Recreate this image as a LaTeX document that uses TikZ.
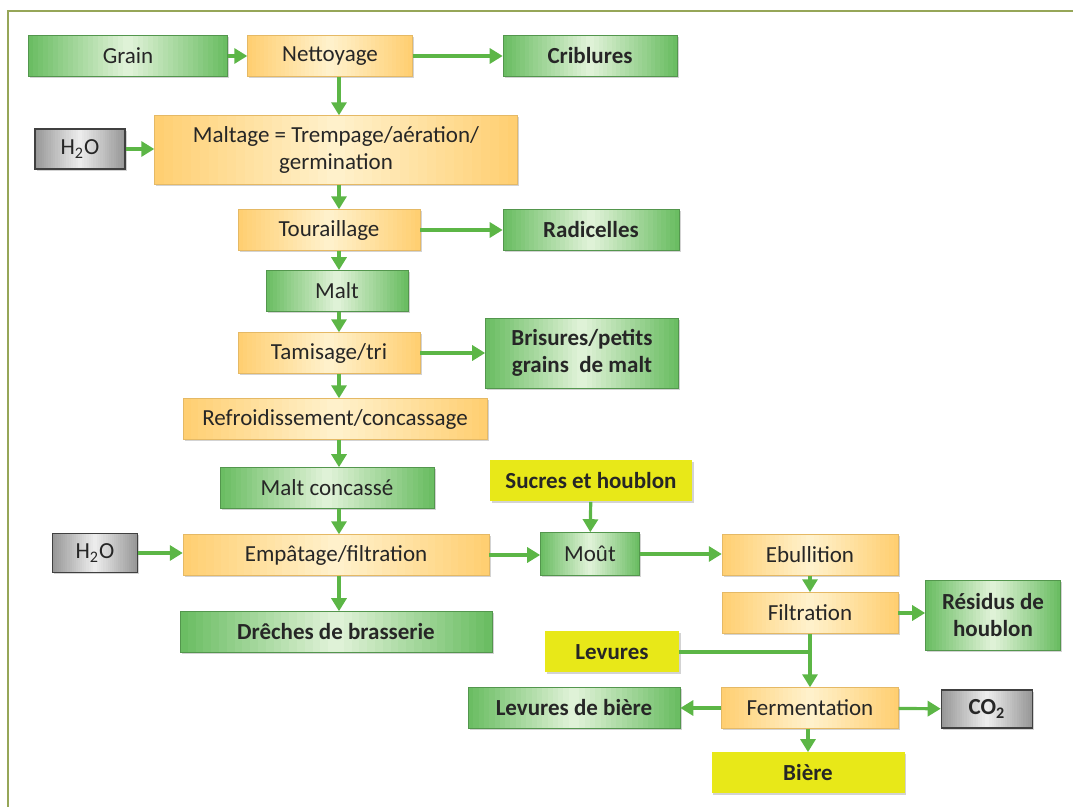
\documentclass[tikz,border=0pt]{standalone}
\usepackage{fontspec}
\setmainfont{Carlito}
\usetikzlibrary{arrows.meta,shadows,calc}

\definecolor{prodgreen}{RGB}{104,188,96}
\definecolor{prodlight}{RGB}{226,243,218}
\definecolor{steporange}{RGB}{255,206,112}
\definecolor{steplight}{RGB}{255,242,205}
\definecolor{inyellow}{RGB}{232,232,24}
\definecolor{gasgray}{RGB}{150,150,150}
\definecolor{gaslight}{RGB}{238,238,238}
\definecolor{flowgreen}{RGB}{92,182,70}
\definecolor{framegreen}{RGB}{150,166,88}
\definecolor{txt}{RGB}{38,38,38}

\begin{document}
\begin{tikzpicture}[x=0.5pt,y=0.5pt,
  font=\fontsize{11.5}{13.5}\selectfont, text=txt,
  box/.style={shape=rectangle, inner sep=0pt, align=center, minimum height=20.5pt,
    drop shadow={shadow xshift=0.8pt, shadow yshift=-1pt, opacity=0.35}},
  % light in the middle, darker at both ends
  hshade/.style 2 args={fill=#1, path picture={
    \foreach \i in {0,...,39}{
      \pgfmathsetmacro\mix{100*(1-abs((\i+0.5)/20-1))}
      \pgfmathsetmacro\nxt{(\i+1.4)/40}
      \fill[#2!\mix!#1] ($(path picture bounding box.south west)!\i/40!(path picture bounding box.south east)$)
        rectangle ($(path picture bounding box.north west)!\nxt!(path picture bounding box.north east)$);
    }}},
  prodbox/.style={box, draw=prodgreen!80!black, line width=0.3pt, hshade={prodgreen}{prodlight}},
  stepbox/.style={box, draw=steporange!90!black, line width=0.2pt, hshade={steporange}{steplight}},
  inbox/.style={box, fill=inyellow, font=\fontsize{11.5}{13.5}\selectfont\bfseries},
  gasbox/.style={box, draw=black!75, line width=0.8pt, hshade={gasgray}{gaslight}},
  flow/.style={draw=flowgreen, line width=1.6pt, -{Triangle[length=6.5pt,width=7.5pt]}},
  flowline/.style={draw=flowgreen, line width=1.6pt}]

\useasboundingbox (0,0) rectangle (1073,-807);
% frame
\draw[framegreen, line width=1pt] (8,-807) -- (8,-11) -- (1073,-11);

\coordinate (col) at (339,0);

% malting
\node[prodbox, minimum width=99.5pt] (grain) at (128,-56) {Grain};
\node[stepbox, minimum width=82.5pt] (nett) at (330,-56) {Nettoyage};
\node[prodbox, minimum width=87pt, font=\fontsize{11.5}{13.5}\selectfont\bfseries] (crib) at (590,-56) {Criblures};
\node[gasbox, minimum width=45pt, minimum height=20pt] (eau1) at (80,-149) {H\textsubscript{2}O};
\node[stepbox, minimum width=181.5pt, minimum height=34.5pt] (maltage) at (336,-150) {Maltage = Trempage/aération/\\germination};
\node[stepbox, minimum width=91pt] (tour) at (329,-230) {Touraillage};
\node[prodbox, minimum width=88pt, font=\fontsize{11.5}{13.5}\selectfont\bfseries] (radi) at (591,-230) {Radicelles};
\node[prodbox, minimum width=71pt] (malt) at (337,-291) {Malt};
\node[stepbox, minimum width=91pt] (tami) at (329,-353) {Tamisage/tri};
\node[prodbox, minimum width=96.5pt, minimum height=35pt, font=\fontsize{11.5}{13.5}\selectfont\bfseries] (bris) at (582,-353) {Brisures/petits\\grains~ de malt};
\node[stepbox, minimum width=152pt] (refr) at (335,-419) {Refroidissement/concassage};
\node[prodbox, minimum width=107pt] (maltc) at (327,-488) {Malt concassé};

% brewing
\node[inbox, minimum width=101pt] (sucres) at (591,-481) {Sucres et houblon};
\node[gasbox, minimum width=42.5pt, minimum height=19.5pt] (eau2) at (95,-553) {H\textsubscript{2}O};
\node[stepbox, minimum width=153pt] (empa) at (336,-555) {Empâtage/filtration};
\node[prodbox, minimum width=49.5pt, minimum height=21.5pt] (mout) at (590,-554) {Moût};
\node[stepbox, minimum width=88pt] (ebul) at (810,-555) {Ebullition};
\node[stepbox, minimum width=88pt] (filt) at (810,-613) {Filtration};
\node[prodbox, minimum width=67.5pt, minimum height=35pt, font=\fontsize{11.5}{13.5}\selectfont\bfseries] (resi) at (993,-615) {Résidus de\\houblon};
\node[prodbox, minimum width=156pt, font=\fontsize{11.5}{13.5}\selectfont\bfseries] (drec) at (336,-632) {Drêches de brasserie};
\node[inbox, minimum width=67pt] (levu) at (612,-652) {Levures};
\node[prodbox, minimum width=106pt, font=\fontsize{11.5}{13.5}\selectfont\bfseries] (levb) at (574,-708) {Levures de bière};
\node[stepbox, minimum width=88.5pt] (ferm) at (810,-708) {Fermentation};
\node[gasbox, minimum width=45.5pt, minimum height=19pt, font=\fontsize{11.5}{13.5}\selectfont\bfseries] (co2) at (987,-709) {CO\textsubscript{2}};
\node[inbox, minimum width=96.5pt] (biere) at (808,-773) {Bière};

% connectors
\draw[flow] (grain) -- (nett);
\draw[flow] (nett) -- (crib);
\draw[flow] (nett.south -| col) -- (maltage.north -| col);
\draw[flow] (eau1) -- (maltage.west |- eau1);
\draw[flow] (maltage.south -| col) -- (tour.north -| col);
\draw[flow] (tour) -- (radi);
\draw[flow] (tour.south -| col) -- (malt.north -| col);
\draw[flow] (malt.south -| col) -- (tami.north -| col);
\draw[flow] (tami) -- (bris);
\draw[flow] (tami.south -| col) -- (refr.north -| col);
\draw[flow] (refr.south -| col) -- (maltc.north -| col);
\draw[flow] (maltc.south -| col) -- (empa.north -| col);
\draw[flow] (eau2) -- (empa.west |- eau2);
\draw[flow] (empa.south -| col) -- (drec.north -| col);
\draw[flow] (empa.east) -- (mout.west |- empa.east);
\draw[flow] (sucres) -- (mout);
\draw[flow] (mout) -- (ebul.west |- mout);
\draw[flow] (ebul) -- (filt);
\draw[flow] (filt.east) -- (resi.west |- filt.east);
\draw[flowline] (levu.east) -- (levu.east -| filt.south);
\draw[flow] (filt) -- (ferm);
\draw[flow] (ferm) -- (levb);
\draw[flow] (ferm) -- (co2);
\draw[flow] (ferm.south -| biere) -- (biere);
\end{tikzpicture}
\end{document}
